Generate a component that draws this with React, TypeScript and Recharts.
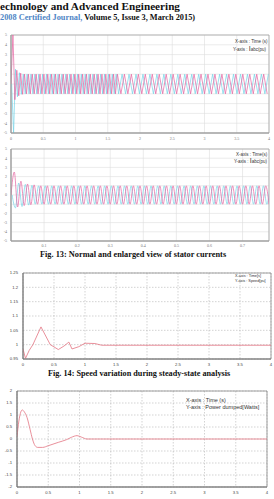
import React from 'react';
import { LineChart, Line, XAxis, YAxis, CartesianGrid, ReferenceArea } from 'recharts';

// ---------- colours ----------
const PINK = '#e4629f';
const CYAN = '#74d3e6';
const RED = '#e37482';

// ---------- Fig. 13 (top): stator currents, full run 0–4 s ----------
const fullTicksX = [0, 0.5, 1, 1.5, 2, 2.5, 3, 3.5, 4];
const currentTicksY = [-5, -4, -3, -2, -1, 0, 1, 2, 3, 4, 5];
const fullDenseStep = 0.03;
const fullSteadyStart = 1.65;
const fullSteadyStep = 0.054;

// successive peaks / troughs of phase a and phase b (pu)
const iaFullDense = [
  0, 5, -1.6, 1.4, -1.2, 1.1, -1.05, 1, -1, 1,
  -1, 1, -1, 1, -1, 1, -1, 1, -1, 1,
  -1, 1, -1, 1, -1, 1, -1, 1, -1, 1,
  -1, 1, -1, 1, -1, 1, -1, 1, -1, 1,
  -1, 1, -1, 1, -1, 1, -1, 1, -1, 1,
  -1, 1, -1, 1, -1,
];
const ibFullDense = [
  0, -5, 1.5, -1.3, 1.15, -1.05, 1, -1, 1, -1,
  1, -1, 1, -1, 1, -1, 1, -1, 1, -1,
  1, -1, 1, -1, 1, -1, 1, -1, 1, -1,
  1, -1, 1, -1, 1, -1, 1, -1, 1, -1,
  1, -1, 1, -1, 1, -1, 1, -1, 1, -1,
  1, -1, 1, -1, 1,
];
const iaFullSteady = [
  1, -1, 1, -1, 1, -1, 1, -1, 1, -1,
  1, -1, 1, -1, 1, -1, 1, -1, 1, -1,
  1, -1, 1, -1, 1, -1, 1, -1, 1, -1,
  1, -1, 1, -1, 1, -1, 1, -1, 1, -1,
  1, -1, 1, -1,
];
const ibFullSteady = [
  -1, 1, -1, 1, -1, 1, -1, 1, -1, 1,
  -1, 1, -1, 1, -1, 1, -1, 1, -1, 1,
  -1, 1, -1, 1, -1, 1, -1, 1, -1, 1,
  -1, 1, -1, 1, -1, 1, -1, 1, -1, 1,
  -1, 1, -1, 1,
];

// ---------- Fig. 13 (bottom): enlarged view, 0–0.78 s ----------
const zoomTicksX = [0.1, 0.2, 0.3, 0.4, 0.5, 0.6, 0.7];
const zoomStep = 0.01;
const iaZoom = [
  0, 2.5, -1.3, 1.5, -1.15, 1.2, -1.05, 1.1, -1, 1,
  -1, 1, -1, 1, -1, 1, -1, 1, -1, 1,
  -1, 1, -1, 1, -1, 1, -1, 1, -1, 1,
  -1, 1, -1, 1, -1, 1, -1, 1, -1, 1,
  -1, 1, -1, 1, -1, 1, -1, 1, -1, 1,
  -1, 1, -1, 1, -1, 1, -1, 1, -1, 1,
  -1, 1, -1, 1, -1, 1, -1, 1, -1, 1,
  -1, 1, -1, 1, -1, 1, -1, 1, -1,
];
const ibZoom = [
  0, -1.4, 1.3, -1.25, 1.15, -1.1, 1.05, -1, 1, -1,
  1, -1, 1, -1, 1, -1, 1, -1, 1, -1,
  1, -1, 1, -1, 1, -1, 1, -1, 1, -1,
  1, -1, 1, -1, 1, -1, 1, -1, 1, -1,
  1, -1, 1, -1, 1, -1, 1, -1, 1, -1,
  1, -1, 1, -1, 1, -1, 1, -1, 1, -1,
  1, -1, 1, -1, 1, -1, 1, -1, 1, -1,
  1, -1, 1, -1, 1, -1, 1, -1, 1,
];

// ---------- Fig. 14: rotor speed (pu) ----------
const timeTicks = [0, 0.5, 1, 1.5, 2, 2.5, 3, 3.5, 4];
const speedTicksY = [0.95, 1, 1.05, 1.1, 1.15, 1.2, 1.25];
const speedTime = [0, 0.04, 0.1, 0.16, 0.29, 0.44, 0.57, 0.66, 0.74, 0.79, 0.9, 1.0, 1.16, 1.27, 4];
const speedValue = [0.985, 0.952, 0.98, 1.0, 1.062, 1.0, 0.983, 0.995, 1.009, 0.985, 0.993, 1.005, 1.004, 0.998, 0.998];

// ---------- power dumped (W) ----------
const powerTicksY = [-2, -1.5, -1, -0.5, 0, 0.5, 1, 1.5, 2];
const powerTime = [0, 0.03, 0.06, 0.084, 0.12, 0.16, 0.21, 0.247, 0.29, 0.33, 0.41, 0.5, 0.66, 0.79, 0.87, 0.96, 1.03, 1.12, 4];
const powerValue = [0.1, 0.75, 1.12, 1.21, 1.12, 0.9, 0.39, 0, -0.28, -0.35, -0.35, -0.28, -0.14, -0.03, 0.07, 0.14, 0.08, 0, 0];

// ---------- table builders ----------
const rows = (values: number[], start: number, step: number) =>
  values.map((v, i) => ({ t: start + i * step, v }));
const pairs = (ts: number[], vs: number[]) => ts.map((t, i) => ({ t, v: vs[i] }));

const iaFull = [...rows(iaFullDense, 0, fullDenseStep), ...rows(iaFullSteady, fullSteadyStart, fullSteadyStep)];
const ibFull = [
  ...rows(ibFullDense, 0.01, fullDenseStep),
  ...rows(ibFullSteady, fullSteadyStart + 0.018, fullSteadyStep),
];
const iaZ = rows(iaZoom, 0, zoomStep);
const ibZ = rows(ibZoom, 0.0033, zoomStep);
const speed = pairs(speedTime, speedValue);
const power = pairs(powerTime, powerValue);

// ---------- text helper ----------
const Txt: React.FC<{
  x: number;
  y: number;
  size: number;
  children: React.ReactNode;
  style?: React.CSSProperties;
}> = ({ x, y, size, children, style }) => (
  <div
    style={{
      position: 'absolute',
      left: x,
      top: y - size / 2,
      fontSize: size,
      lineHeight: `${size}px`,
      whiteSpace: 'nowrap',
      ...style,
    }}
  >
    {children}
  </div>
);

const serifBold: React.CSSProperties = { fontFamily: '"Liberation Serif", "Times New Roman", serif', fontWeight: 'bold', color: '#111' };
const sans: React.CSSProperties = { fontFamily: '"Liberation Sans", Arial, sans-serif', color: '#333' };

const smallTick = { fontSize: 4, fill: '#777' };
const axisTick = { fontSize: 4.2, fill: '#444', fontFamily: '"Liberation Sans", Arial, sans-serif' };

export default function App() {
  return (
    <div style={{ position: 'absolute', left: 0, top: 0, width: 274, height: 499, background: '#fff', overflow: 'hidden' }}>
      {/* page header */}
      <Txt x={0} y={7} size={11.2} style={serifBold}>echnology and Advanced Engineering</Txt>
      <Txt x={0} y={18.5} size={8.3} style={serifBold}>
        <span style={{ color: '#4f86c6' }}>2008 Certified Journal,</span> Volume 5, Issue 3, March 2015)
      </Txt>

      {/* Fig. 13 top: full run */}
      <div style={{ position: 'absolute', left: 0, top: 30 }}>
        <LineChart width={274} height={112} margin={{ top: 5, right: 5, bottom: 0, left: 0 }}>
          <CartesianGrid stroke="#dddddd" strokeWidth={0.6} />
          <XAxis type="number" dataKey="t" domain={[0, 4]} ticks={fullTicksX} interval={0} height={9}
            tick={smallTick} tickLine={false} tickSize={2} axisLine={{ stroke: '#999' }} allowDataOverflow />
          <YAxis type="number" domain={[-5, 5]} ticks={currentTicksY} interval={0} width={11}
            tick={smallTick} tickLine={false} tickSize={2} axisLine={{ stroke: '#999' }} allowDataOverflow />
          <ReferenceArea x1={0} x2={4} y1={-5} y2={5} fill="none" stroke="#a5a5a5" strokeWidth={0.8} />
          <Line data={ibFull} dataKey="v" type="linear" stroke={CYAN} strokeWidth={0.7} dot={false} isAnimationActive={false} />
          <Line data={iaFull} dataKey="v" type="linear" stroke={PINK} strokeWidth={0.7} dot={false} isAnimationActive={false} />
        </LineChart>
      </div>
      <Txt x={235} y={42.7} size={4.5} style={sans}>X-axis : Time (s)</Txt>
      <Txt x={233} y={49} size={4.5} style={sans}>Y-axis : <span style={{ fontSize: 7 }}>I</span>abc(pu)</Txt>

      {/* Fig. 13 bottom: enlarged view */}
      <div style={{ position: 'absolute', left: 0, top: 144 }}>
        <LineChart width={274} height={105} margin={{ top: 5, right: 5, bottom: 0, left: 0 }}>
          <CartesianGrid stroke="#dddddd" strokeWidth={0.6} />
          <XAxis type="number" dataKey="t" domain={[0, 0.78]} ticks={zoomTicksX} interval={0} height={8}
            tick={smallTick} tickLine={false} tickSize={1} axisLine={{ stroke: '#999' }} allowDataOverflow />
          <YAxis type="number" domain={[-5, 5]} ticks={currentTicksY} interval={0} width={11}
            tick={smallTick} tickLine={false} tickSize={2} axisLine={{ stroke: '#999' }} allowDataOverflow />
          <ReferenceArea x1={0} x2={0.78} y1={-5} y2={5} fill="none" stroke="#a5a5a5" strokeWidth={0.8} />
          <Line data={ibZ} dataKey="v" type="monotone" stroke={CYAN} strokeWidth={0.7} dot={false} isAnimationActive={false} />
          <Line data={iaZ} dataKey="v" type="monotone" stroke={PINK} strokeWidth={0.7} dot={false} isAnimationActive={false} />
        </LineChart>
      </div>
      <Txt x={236} y={155} size={4.5} style={sans}>X-axis : Time(s)</Txt>
      <Txt x={234} y={161} size={4.5} style={sans}>Y-axis : <span style={{ fontSize: 7 }}>I</span>abc(pu)</Txt>

      <Txt x={40} y={255} size={8.3} style={serifBold}>Fig. 13: Normal and enlarged view of stator currents</Txt>

      {/* Fig. 14: speed */}
      <div style={{ position: 'absolute', left: 0, top: 267 }}>
        <LineChart width={274} height={101} margin={{ top: 6, right: 3, bottom: 0, left: 0 }}>
          <CartesianGrid stroke="#b5b5b5" strokeWidth={0.6} strokeDasharray="1.5 1.5" />
          <XAxis type="number" dataKey="t" domain={[0, 4]} ticks={timeTicks} interval={0} height={9}
            tick={axisTick} tickLine={false} tickSize={2} axisLine={{ stroke: '#777' }} allowDataOverflow />
          <YAxis type="number" domain={[0.95, 1.25]} ticks={speedTicksY} interval={0} width={23}
            tick={axisTick} tickLine={false} tickSize={3} axisLine={{ stroke: '#777' }} allowDataOverflow />
          <ReferenceArea x1={0} x2={4} y1={0.95} y2={1.25} fill="none" stroke="#888" strokeWidth={0.8} />
          <Line data={speed} dataKey="v" type="linear" stroke={RED} strokeWidth={0.8} dot={false} isAnimationActive={false} />
        </LineChart>
      </div>
      <Txt x={235} y={277} size={3.8} style={sans}>X-axis : Time[s]</Txt>
      <Txt x={235} y={282} size={3.8} style={sans}>Y-axis : Speed[pu]</Txt>

      <Txt x={48} y={374} size={8.2} style={serifBold}>Fig. 14: Speed variation during steady-state analysis</Txt>

      {/* power dumped */}
      <div style={{ position: 'absolute', left: 0, top: 385 }}>
        <LineChart width={274} height={112} margin={{ top: 6, right: 7, bottom: 0, left: 0 }}>
          <CartesianGrid stroke="#b5b5b5" strokeWidth={0.6} strokeDasharray="1.5 1.5" />
          <XAxis type="number" dataKey="t" domain={[0, 4]} ticks={timeTicks} interval={0} height={10}
            tick={axisTick} tickLine={false} tickSize={2} axisLine={{ stroke: '#777' }} allowDataOverflow />
          <YAxis type="number" domain={[-2, 2]} ticks={powerTicksY} interval={0} width={17}
            tick={axisTick} tickLine={false} tickSize={3} axisLine={{ stroke: '#777' }} allowDataOverflow />
          <ReferenceArea x1={0} x2={4} y1={-2} y2={2} fill="none" stroke="#888" strokeWidth={0.8} />
          <Line data={power} dataKey="v" type="monotone" stroke={RED} strokeWidth={0.8} dot={false} isAnimationActive={false} />
        </LineChart>
      </div>
      <Txt x={186} y={400.7} size={5.5} style={sans}>X-axis : Time (s)</Txt>
      <Txt x={186} y={407.7} size={5.5} style={sans}>Y-axis : Power dumped[Watts]</Txt>
    </div>
  );
}
